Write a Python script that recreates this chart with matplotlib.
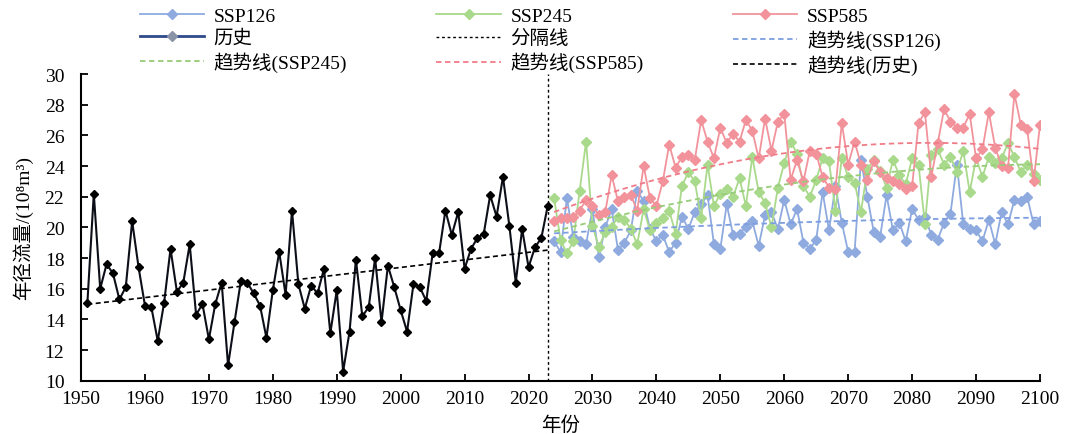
import numpy as np
import matplotlib
matplotlib.use('Agg')
import matplotlib.pyplot as plt
from matplotlib.lines import Line2D

plt.rcParams['font.family'] = ['Liberation Serif', 'Noto Sans CJK SC', 'DejaVu Serif']

# 历史年径流量 1951-2023
hist_years = np.arange(1951, 2024)
hist = [15.1, 22.2, 16.0, 17.6, 17.0, 15.3, 16.1, 20.4, 17.4, 14.9,
        14.8, 12.6, 15.1, 18.6, 15.8, 16.4, 18.9, 14.3, 15.0, 12.7,
        15.0, 16.4, 11.0, 13.8, 16.5, 16.4, 15.7, 14.9, 12.8, 15.9,
        18.4, 15.6, 21.1, 16.3, 14.7, 16.2, 15.7, 17.3, 13.1, 15.9,
        10.6, 13.2, 17.9, 14.2, 14.8, 18.0, 13.8, 17.5, 16.1, 14.6,
        13.2, 16.3, 16.1, 15.2, 18.3, 18.3, 21.1, 19.5, 21.0, 17.3,
        18.6, 19.3, 19.6, 22.1, 20.7, 23.3, 20.1, 16.4, 19.9, 17.4,
        18.7, 19.3, 21.4]

# 未来情景 2024-2100
fut_years = np.arange(2024, 2101)
ssp126 = [19.1, 18.4, 21.9, 19.4, 19.1, 18.9, 21.2, 18.1, 20.0, 21.2,
          18.5, 19.0, 19.8, 22.4, 21.7, 19.9, 19.1, 19.5, 18.4, 19.0,
          20.7, 19.9, 21.0, 21.5, 22.1, 18.9, 18.6, 21.5, 19.5, 19.6,
          20.0, 20.4, 18.8, 20.8, 21.0, 19.9, 21.8, 20.2, 21.2, 19.0,
          18.6, 19.2, 22.3, 19.8, 22.7, 20.3, 18.4, 18.4, 24.4, 22.0,
          19.7, 19.4, 22.1, 19.8, 20.3, 19.1, 21.2, 20.5, 20.7, 19.5,
          19.2, 20.3, 20.9, 24.1, 20.2, 19.9, 19.8, 19.1, 20.5, 18.9,
          21.0, 20.2, 21.8, 21.7, 22.0, 20.2, 20.4]
ssp245 = [21.9, 19.2, 18.3, 19.1, 22.4, 25.6, 20.1, 18.7, 19.7, 20.0,
          20.7, 20.5, 19.9, 18.9, 21.2, 19.8, 20.3, 20.6, 21.1, 19.6,
          22.7, 23.6, 23.0, 20.6, 24.1, 21.4, 22.2, 22.5, 22.0, 23.2,
          21.4, 24.6, 22.3, 21.6, 20.0, 22.6, 24.2, 25.6, 24.8, 22.7,
          22.0, 23.1, 24.5, 24.3, 21.1, 24.5, 23.3, 22.9, 21.0, 23.8,
          24.4, 23.7, 22.6, 24.4, 23.4, 22.8, 24.5, 24.1, 20.2, 24.7,
          25.1, 24.1, 24.6, 23.6, 25.0, 22.3, 24.5, 23.3, 24.6, 24.2,
          24.5, 25.5, 24.6, 23.6, 24.1, 23.5, 23.1]
ssp585 = [20.4, 20.6, 20.6, 20.7, 21.1, 21.8, 21.4, 20.8, 21.0, 23.4,
          21.7, 22.0, 22.1, 21.1, 24.0, 21.9, 21.4, 23.0, 25.4, 23.9,
          24.6, 24.7, 24.4, 27.0, 25.6, 24.5, 26.5, 25.5, 26.1, 25.6,
          27.0, 26.3, 24.5, 27.1, 25.0, 26.9, 27.4, 23.1, 24.4, 23.0,
          25.0, 24.8, 23.3, 22.6, 22.5, 26.8, 24.1, 25.6, 24.1, 23.1,
          24.3, 23.6, 23.2, 23.0, 22.8, 22.5, 22.7, 26.8, 27.5, 23.3,
          25.5, 27.7, 26.9, 26.5, 26.5, 27.4, 24.5, 25.1, 27.5, 25.2,
          24.0, 23.9, 28.7, 26.7, 26.4, 23.0, 26.7]

split_year = 2023

fig = plt.figure(figsize=(10.66, 4.35), dpi=100)
ax = fig.add_axes([0.076, 0.1225, 0.8996, 0.705])

dash = (0, (3, 2))

# 未来情景折线
h126, = ax.plot(fut_years, ssp126, color='#8eaadf', lw=1.3, marker='D', ms=5, zorder=3)
h245, = ax.plot(fut_years, ssp245, color='#a9d98b', lw=1.3, marker='D', ms=5, zorder=3)
h585, = ax.plot(fut_years, ssp585, color='#f2939c', lw=1.3, marker='D', ms=5, zorder=3)

# 历史折线
ax.plot(hist_years, hist, color='#0c0e18', lw=1.5, marker='D', ms=4.2,
        mfc='black', mec='black', zorder=5)

# 分隔线
hsep = ax.axvline(split_year, color='black', ls=(0, (2, 2)), lw=1)

# 趋势线: 未来二次多项式, 历史线性
t = fut_years - fut_years[0]
trend = {}
for name, vals, col in [('126', ssp126, '#7d9ee0'), ('245', ssp245, '#97cc78'), ('585', ssp585, '#f07c88')]:
    c = np.polyfit(t, vals, 2)
    trend[name], = ax.plot(fut_years, np.polyval(c, t), color=col, ls=dash, lw=1.3, zorder=4)
c = np.polyfit(hist_years, hist, 1)
htr, = ax.plot(hist_years, np.polyval(c, hist_years), color='black', ls=dash, lw=1.2, zorder=6)

ax.set_xlim(1950, 2100)
ax.set_ylim(10, 30)
ax.set_xticks(np.arange(1950, 2101, 10))
ax.set_yticks(np.arange(10, 31, 2))
ax.spines['top'].set_visible(False)
ax.spines['right'].set_visible(False)
for s in ['left', 'bottom']:
    ax.spines[s].set_linewidth(1.5)
ax.tick_params(direction='in', length=5, width=1.3, labelsize=14)
ax.tick_params(axis='x', pad=7)
ax.tick_params(axis='y', pad=12)
ax.set_xlabel('年份', fontsize=14, labelpad=6)
ax.set_ylabel('年径流量/(10⁸m³)', fontsize=14, labelpad=8)

# 图例 (历史用图例样式的代理线)
hhist = Line2D([], [], color='#2e4a8a', lw=2, marker='D', ms=5, mfc='#8a94a6', mec='#8a94a6')
handles = [h126, hhist, trend['245'], h245, hsep, trend['585'], h585, trend['126'], htr]
labels = ['SSP126', '历史', '趋势线(SSP245)', 'SSP245', '分隔线', '趋势线(SSP585)',
          'SSP585', '趋势线(SSP126)', '趋势线(历史)']
fig.legend(handles, labels, ncol=3, loc='upper left', bbox_to_anchor=(0.131, 0.981),
           frameon=False, fontsize=14, handlelength=3.3, handletextpad=0.5,
           columnspacing=4.6, labelspacing=0.23, borderpad=0, borderaxespad=0)

fig.savefig('out.png', dpi=100)
